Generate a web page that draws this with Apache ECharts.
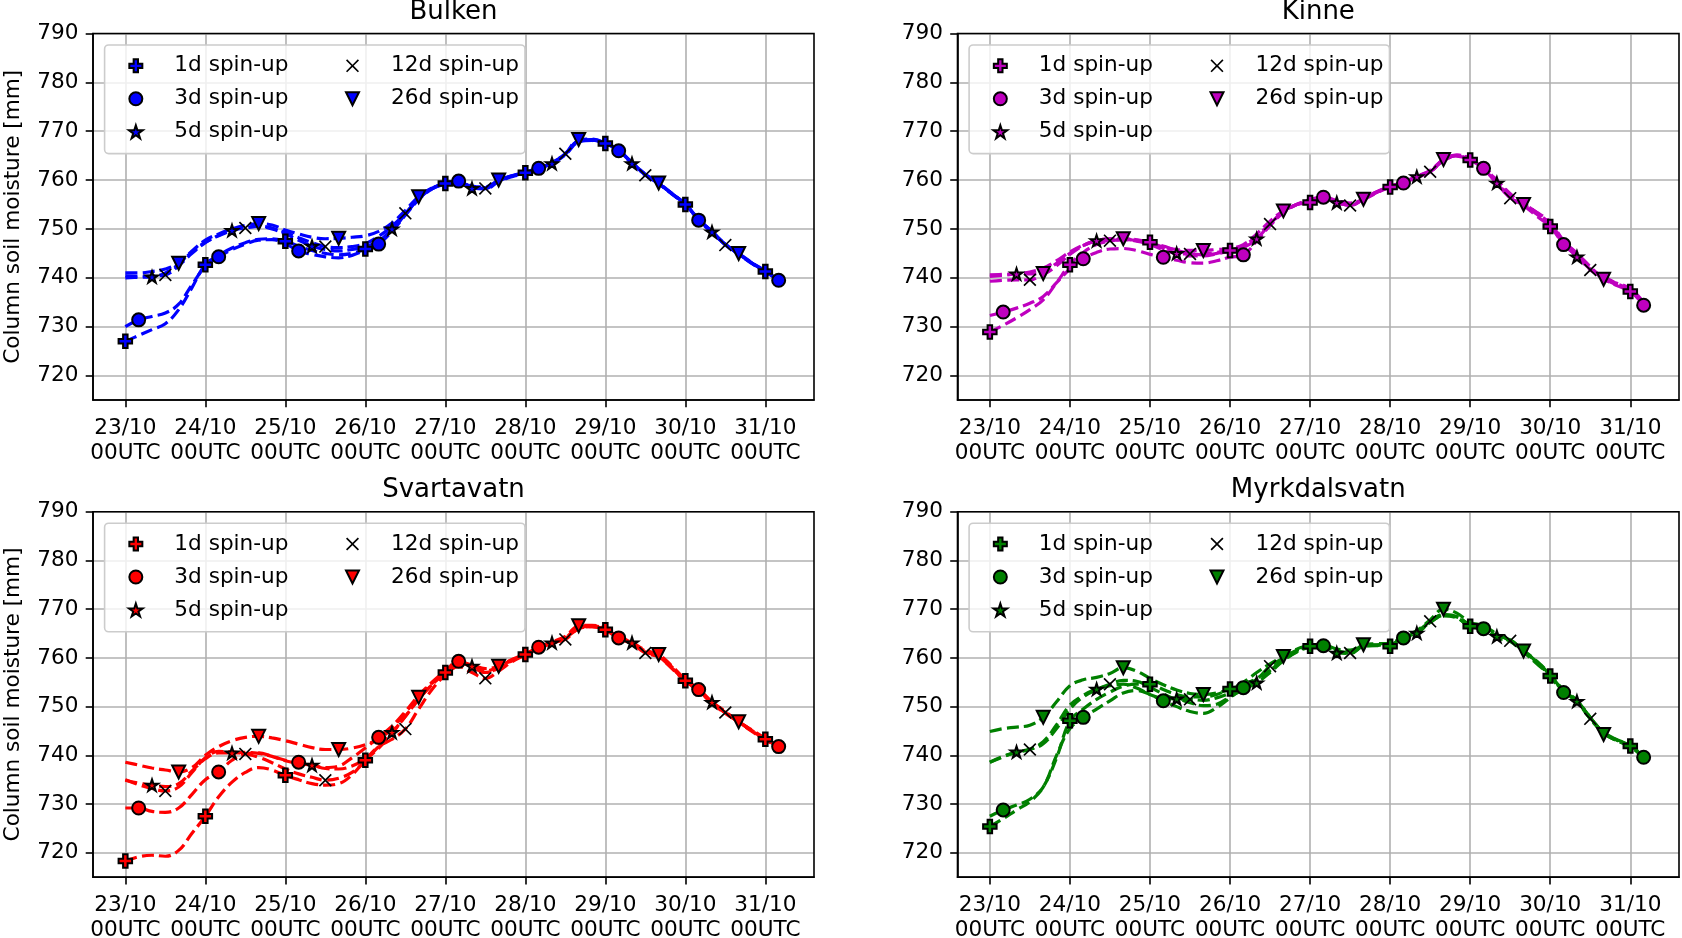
<!DOCTYPE html>
<html><head><meta charset="utf-8">
<script src="https://cdn.jsdelivr.net/npm/echarts@6/dist/echarts.min.js"></script>
<style>html,body{margin:0;padding:0;background:#fff}#c{width:1682px;height:938px}</style>
</head><body><div id="c"></div>
<script>
// ---------------- data ----------------
const HOURS = [0,4,8,12,16,20,24,28,32,36,40,44,48,52,56,60,64,68,72,76,80,84,88,92,96,
               100,104,108,112,116,120,124,128,132,136,140,144,148,152,156,160,164,168,172,176,180,184,188,192,196];
const X_TICKS = [0,24,48,72,96,120,144,168,192];
const X_TICK_LABELS = ['23/10\n00UTC','24/10\n00UTC','25/10\n00UTC','26/10\n00UTC','27/10\n00UTC',
                       '28/10\n00UTC','29/10\n00UTC','30/10\n00UTC','31/10\n00UTC'];
const Y_TICKS = [720,730,740,750,760,770,780,790];
const SERIES_NAMES = ['1d spin-up','3d spin-up','5d spin-up','12d spin-up','26d spin-up'];
const STATIONS = ['Bulken','Kinne','Svartavatn','Myrkdalsvatn'];
const COLORS = ['#0000ff','#bf00bf','#ff0000','#008000'];

const BULKEN_1D = [727.0,728.2,729.4,730.6,733.5,738.0,742.7,744.6,746.1,747.2,747.9,748.0,747.5,746.5,745.6,745.0,744.7,745.0,745.9,747.2,749.8,753.0,756.2,758.3,759.3,
  759.8,758.6,758.4,759.9,760.8,761.5,762.4,763.5,765.3,768.0,768.2,767.5,766.0,763.5,761.1,759.3,757.2,755.0,751.9,749.4,746.8,744.9,743.0,741.3,739.5];
const BULKEN_3D = [730.0,731.4,732.1,732.8,734.6,738.6,742.3,744.3,745.8,746.9,747.7,747.8,747.0,745.5,744.8,744.3,744.1,744.6,745.7,746.9,749.5,752.8,756.0,758.2,759.4,
  759.8,758.4,758.2,759.7,760.7,761.4,762.4,763.4,765.2,767.8,768.1,767.4,766.0,763.6,761.2,759.3,757.2,755.0,751.8,749.3,746.8,744.9,743.0,741.2,739.5];
const BULKEN_5D = [740.0,740.1,740.2,741.0,742.8,745.3,747.3,748.6,749.7,750.3,750.5,750.0,749.0,747.7,746.5,745.8,745.5,745.8,746.4,747.5,750.0,753.0,756.2,758.3,759.3,
  759.9,758.3,758.3,759.8,760.9,761.6,762.5,763.4,765.3,768.0,768.3,767.5,765.9,763.4,761.1,759.3,757.1,755.0,752.0,749.4,746.9,744.9,742.9,741.3,739.4];
const BULKEN_12D = [740.4,740.3,740.4,740.6,742.5,745.0,747.2,748.7,749.8,750.2,750.6,750.2,749.3,748.2,747.2,746.4,746.2,746.4,747.0,748.5,750.6,753.2,756.2,758.2,759.2,
  759.7,758.5,758.3,759.9,760.8,761.5,762.3,763.6,765.4,768.0,768.2,767.6,766.1,763.5,761.0,759.3,757.2,755.1,751.9,749.5,746.7,744.9,743.0,741.3,739.5];
const BULKEN_26D = [741.0,741.0,741.3,741.8,743.0,745.5,747.7,749.0,750.0,750.7,751.1,750.8,749.8,749.0,748.3,748.0,748.1,748.3,748.6,749.5,751.2,753.8,756.6,758.4,759.3,
  760.0,758.8,758.6,760.0,760.9,761.5,762.5,763.6,765.4,768.3,768.4,767.6,766.1,763.6,761.2,759.4,757.3,755.1,752.0,749.5,746.9,745.0,743.1,741.4,739.6];

const KINNE_1D = [728.9,730.3,731.8,733.5,735.5,739.0,742.7,745.2,746.8,747.5,747.8,747.7,747.3,746.5,745.6,745.0,744.7,745.0,745.6,746.2,748.0,751.0,753.6,755.0,755.4,
  756.2,755.4,754.8,756.0,757.4,758.6,759.4,760.5,761.7,764.0,764.9,764.1,762.3,759.3,756.4,754.8,752.6,750.5,746.9,744.3,741.8,739.8,738.4,737.2,734.5];
const KINNE_3D = [732.3,733.0,733.8,734.8,736.2,739.0,741.8,743.9,745.2,745.9,746.0,745.6,744.8,744.2,743.6,743.1,743.0,743.5,744.2,744.7,747.5,750.7,753.3,755.0,756.0,
  756.5,755.6,755.0,756.2,757.6,758.7,759.4,760.7,761.9,764.2,765.1,764.4,762.4,759.8,757.0,755.3,753.3,751.0,746.8,744.5,742.0,740.1,738.6,737.4,734.4];
const KINNE_5D = [740.3,740.5,740.8,741.2,742.0,743.5,745.3,746.7,747.6,748.0,748.0,747.6,747.0,746.0,745.0,744.5,744.5,744.9,745.5,746.3,748.0,750.8,753.4,755.0,755.6,
  756.3,755.4,754.9,756.1,757.5,758.6,759.4,760.7,761.8,764.1,765.0,764.3,762.5,759.4,756.6,755.1,753.0,750.8,747.2,744.3,741.9,740.0,738.5,737.3,734.5];
const KINNE_12D = [739.3,739.5,739.6,739.6,741.0,743.0,745.0,746.6,747.5,747.6,747.8,747.5,746.8,745.8,745.0,744.9,744.9,745.2,745.7,746.5,748.6,751.0,753.5,755.0,755.6,
  756.4,755.5,754.8,756.1,757.5,758.6,759.5,760.6,761.7,764.0,765.0,764.2,762.6,759.7,756.3,755.2,753.2,751.1,747.5,744.8,741.6,740.3,738.8,737.6,734.7];
const KINNE_26D = [740.6,740.7,740.8,740.8,740.9,742.5,744.8,746.6,747.6,748.0,748.0,747.8,747.2,746.3,745.8,745.6,745.6,745.8,746.0,746.8,749.0,751.6,753.7,755.0,755.8,
  756.6,755.8,755.3,756.1,757.6,758.7,759.6,760.8,762.0,764.2,765.1,764.5,762.8,760.0,757.2,755.0,753.4,751.4,747.6,745.0,742.3,739.7,738.9,737.8,735.0];

const SVARTAVATN_1D = [718.3,719.2,719.5,719.3,720.5,724.0,727.5,731.5,734.5,736.5,737.5,737.0,735.9,735.0,734.2,733.9,734.2,736.0,739.0,741.5,744.5,748.0,751.5,754.5,757.0,
  759.0,758.2,757.0,758.0,759.5,760.7,762.0,763.0,764.0,766.0,766.4,765.8,764.2,763.0,761.3,760.3,758.0,755.3,753.3,750.8,748.7,746.9,745.0,743.3,741.8];
const SVARTAVATN_3D = [729.2,729.2,728.5,728.3,729.2,732.0,735.0,736.6,739.0,740.3,740.5,739.8,739.0,738.6,738.0,737.5,737.8,739.5,741.5,743.7,746.0,749.0,752.3,755.0,757.3,
  759.3,758.4,757.3,758.2,759.6,760.8,762.2,763.1,764.1,766.3,766.5,765.7,764.1,762.9,761.2,760.3,757.9,755.4,753.5,750.8,748.6,746.9,745.0,743.3,741.8];
const SVARTAVATN_5D = [734.9,734.3,733.9,733.6,734.2,736.8,739.3,740.5,740.5,740.6,740.4,739.8,738.9,738.3,738.0,737.3,737.2,737.8,739.3,742.0,744.7,748.0,751.5,754.5,757.0,
  759.0,758.3,757.0,757.9,759.4,760.7,762.1,763.1,764.0,766.2,766.6,765.9,764.3,763.1,761.4,760.5,758.1,755.3,753.3,750.9,748.8,747.0,745.1,743.4,741.9];
const SVARTAVATN_12D = [735.0,734.0,733.2,732.7,733.5,736.5,739.5,740.8,740.7,740.3,739.6,738.5,737.2,736.2,735.5,734.9,735.3,736.5,738.8,741.8,743.3,745.4,749.5,753.5,756.5,
  758.2,757.0,755.8,757.3,759.2,760.6,762.0,763.0,763.8,766.0,766.4,765.7,764.0,762.9,761.0,760.2,757.8,755.2,753.3,750.6,748.8,746.8,744.9,743.2,741.7];
const SVARTAVATN_26D = [738.6,738.0,737.4,737.0,736.6,737.5,740.0,741.8,743.0,743.7,743.9,743.6,743.0,742.3,741.6,741.2,741.2,741.5,742.2,743.4,745.5,748.8,751.9,754.8,757.0,
  759.0,758.6,757.8,758.3,759.7,760.8,762.2,763.3,764.4,766.6,766.7,766.0,764.4,763.2,761.6,760.7,758.3,755.6,753.6,751.0,749.0,746.9,745.2,743.5,742.0];

const MYRKDALSVATN_1D = [725.4,727.0,728.8,730.5,733.5,739.5,747.1,749.5,751.5,753.0,754.2,754.6,754.6,753.5,752.5,752.0,752.0,752.5,753.6,754.5,755.8,757.5,759.5,761.3,762.4,
  762.5,761.3,761.0,762.4,762.5,762.4,763.9,765.0,767.3,768.6,768.2,766.5,765.9,764.4,763.4,761.2,758.8,756.3,753.1,751.0,747.5,744.6,743.0,741.9,739.6];
const MYRKDALSVATN_3D = [727.5,728.8,729.8,731.0,733.5,740.0,745.5,747.8,749.5,751.2,752.8,753.3,752.5,751.2,750.0,749.0,748.6,749.8,751.8,753.9,755.5,757.4,759.6,761.5,762.3,
  762.5,761.3,761.1,762.5,762.7,762.8,764.1,765.2,767.3,768.7,768.4,766.7,766.0,764.6,763.7,761.4,759.1,756.2,752.9,751.0,747.7,744.6,743.1,741.9,739.6];
const MYRKDALSVATN_5D = [738.6,739.7,740.7,741.3,742.8,746.3,750.3,752.3,753.6,754.3,754.6,753.8,752.5,751.7,751.6,750.8,750.2,750.5,752.0,753.5,754.9,757.0,759.4,761.2,762.2,
  762.4,761.0,760.9,762.4,762.6,762.5,764.0,765.1,767.4,768.8,768.3,766.4,766.1,764.4,763.7,761.4,759.1,756.5,753.2,751.1,747.8,744.6,743.0,741.8,739.5];
const MYRKDALSVATN_12D = [738.6,739.8,740.6,741.2,742.4,745.5,749.5,752.0,753.5,754.6,755.4,755.2,754.0,752.6,751.6,751.5,751.3,751.8,752.8,754.0,755.6,758.3,760.0,761.6,762.3,
  762.4,761.5,761.0,762.6,762.6,762.7,764.2,765.3,767.5,768.9,768.5,766.8,766.2,764.1,763.5,761.5,759.3,756.6,753.4,751.3,747.5,744.8,743.2,742.0,739.7];
const MYRKDALSVATN_26D = [744.9,745.5,745.8,746.2,747.8,751.0,754.3,755.5,756.0,756.8,758.0,757.3,755.8,754.5,753.4,752.7,752.5,752.8,753.6,755.0,757.0,758.8,760.3,761.8,762.6,
  762.7,761.8,761.6,762.7,762.9,763.0,764.5,765.6,767.8,770.0,769.2,767.3,766.6,764.9,763.5,761.4,759.2,756.5,753.2,751.2,747.8,744.3,743.2,742.0,739.8];

const PANEL_SERIES = [
  [BULKEN_1D, BULKEN_3D, BULKEN_5D, BULKEN_12D, BULKEN_26D],
  [KINNE_1D, KINNE_3D, KINNE_5D, KINNE_12D, KINNE_26D],
  [SVARTAVATN_1D, SVARTAVATN_3D, SVARTAVATN_5D, SVARTAVATN_12D, SVARTAVATN_26D],
  [MYRKDALSVATN_1D, MYRKDALSVATN_3D, MYRKDALSVATN_5D, MYRKDALSVATN_12D, MYRKDALSVATN_26D]
];

// ---------------- styling / layout ----------------
const FONT = 'DejaVu Sans';
const FS = 21.6;
const MARKERS = [
  'path://M1,0H2V1H3V2H2V3H1V2H0V1H1Z',
  'circle',
  'path://M1,0L1.2245,0.691L1.951,0.691L1.363,1.118L1.588,1.809L1,1.382L0.412,1.809L0.637,1.118L0.049,0.691L0.7755,0.691Z',
  'path://M0,9L9,0L50,41L91,0L100,9L59,50L100,91L91,100L50,59L9,100L0,91L41,50Z',
  'path://M0,0L2,0L1,2Z'
];
const MARKER_SIZES = [13.5, 13, 12, 13, 13];
const MARK_STEP = 6; // one marker per 24 h (6 samples of 4 h)

const GRIDS = [
  {left: 93,    top: 33.5,  width: 721,   height: 366.5},
  {left: 957.5, top: 33.5,  width: 721.5, height: 366.5},
  {left: 93,    top: 511.7, width: 721,   height: 365.5},
  {left: 957.5, top: 511.7, width: 721.5, height: 365.5}
];

const option = {
  animation: false,
  backgroundColor: '#ffffff',
  textStyle: {fontFamily: FONT},
  title: [], grid: [], xAxis: [], yAxis: [], legend: [], series: []
};

GRIDS.forEach((g, p) => {
  const color = COLORS[p];
  option.grid.push(Object.assign({
    show: true, borderColor: '#000', borderWidth: 1.6, backgroundColor: 'transparent',
    containLabel: false, outerBoundsMode: 'none', z: 3
  }, g));
  option.title.push({
    text: STATIONS[p], left: g.left + g.width / 2, top: g.top - 34, textAlign: 'center', padding: 0,
    textStyle: {fontFamily: FONT, fontSize: 26, fontWeight: 'normal', color: '#000'}
  });
  option.xAxis.push({
    type: 'value', gridIndex: p, min: -9.7, max: 206.6,
    axisLine: {show: true, onZero: false, lineStyle: {color: '#000', width: 1.6}},
    axisTick: {show: true, customValues: X_TICKS, length: 7.3, lineStyle: {color: '#000', width: 1.6}},
    axisLabel: {
      customValues: X_TICKS, margin: 16.2, fontSize: FS, fontFamily: FONT, color: '#000', lineHeight: 24.7,
      formatter: v => { const k = X_TICKS.indexOf(v); return k >= 0 ? X_TICK_LABELS[k] : ''; }
    },
    splitLine: {show: true, lineStyle: {color: '#b0b0b0', width: 1.6}}
  });
  option.yAxis.push({
    type: 'value', gridIndex: p, min: 715, max: 790,
    axisLine: {show: true, onZero: false, lineStyle: {color: '#000', width: 1.6}},
    axisTick: {show: true, customValues: Y_TICKS, length: 7.3, lineStyle: {color: '#000', width: 1.6}},
    axisLabel: {customValues: Y_TICKS, margin: 14.6, fontSize: FS, fontFamily: FONT, color: '#000'},
    splitLine: {show: true, lineStyle: {color: '#b0b0b0', width: 1.6}},
    name: (p % 2 === 0) ? 'Column soil moisture [mm]' : '',
    nameLocation: 'middle', nameGap: 69,
    nameTextStyle: {fontSize: FS, fontFamily: FONT, color: '#000'}
  });

  const legendItem = s => ({
    name: SERIES_NAMES[s], icon: MARKERS[s],
    itemStyle: s === 3 ? {color: '#000', borderWidth: 0}
                       : {color: color, borderColor: '#000', borderWidth: 2}
  });
  const legendCommon = {
    orient: 'vertical', itemWidth: 25, itemHeight: 13, itemGap: 11.0, selectedMode: false,
    symbolKeepAspect: true,
    textStyle: {fontFamily: FONT, fontSize: FS, color: '#000', padding: [0, 0, 0, 21]}
  };
  option.legend.push(Object.assign({}, legendCommon, {
    left: g.left + 11.6, top: g.top + 11.5,
    padding: [9.8, 236.5, 10.8, 23.4],
    backgroundColor: 'rgba(255,255,255,0.8)', borderColor: '#cccccc', borderWidth: 1.6, borderRadius: 4,
    data: [legendItem(0), legendItem(1), legendItem(2)]
  }));
  option.legend.push(Object.assign({}, legendCommon, {
    left: g.left + 252, top: g.top + 21.3, padding: 0,
    data: [legendItem(3), legendItem(4)]
  }));

  PANEL_SERIES[p].forEach((vals, s) => {
    const pts = HOURS.map((h, i) => [h, vals[i]]);
    option.series.push({
      type: 'line', name: SERIES_NAMES[s] + ' line', xAxisIndex: p, yAxisIndex: p,
      data: pts, symbol: 'none', smooth: 0.4, silent: true, z: 2,
      lineStyle: {color: color, width: 3.2, type: [12, 5.2]}
    });
  });
  PANEL_SERIES[p].forEach((vals, s) => {
    const pts = HOURS.map((h, i) => [h, vals[i]]).filter((d, i) => i % MARK_STEP === s);
    option.series.push({
      type: 'scatter', name: SERIES_NAMES[s], xAxisIndex: p, yAxisIndex: p,
      data: pts, symbol: MARKERS[s], symbolSize: MARKER_SIZES[s], symbolKeepAspect: true,
      silent: true, z: 4,
      itemStyle: s === 3 ? {color: '#000', borderWidth: 0, opacity: 1}
                         : {color: color, borderColor: '#000', borderWidth: 2, opacity: 1}
    });
  });
});

const chart = echarts.init(document.getElementById('c'), null, {renderer: 'canvas', width: 1682, height: 938});
chart.setOption(option);
</script>
</body></html>
